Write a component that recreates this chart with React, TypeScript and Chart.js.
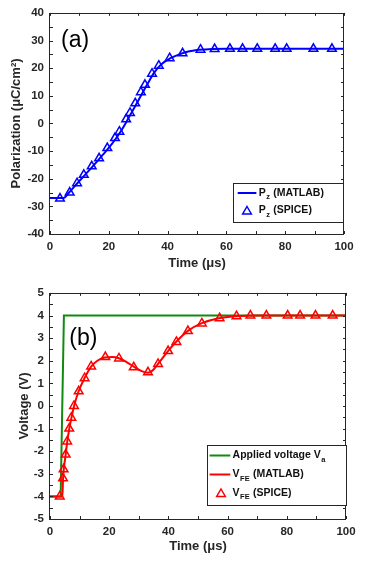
import React, { useEffect, useRef } from "react";
import { Chart, registerables } from "chart.js";

Chart.register(...registerables);

const FONT = '"Liberation Sans", Arial, Helvetica, sans-serif';
const INK = "#262626";
const BLUE = "#0000ff";
const RED = "#ff0000";
const GREEN = "#118a11";

// ---------- Panel (a): polarization ----------
const polMatlabTime = [0, 4.5, 6.5, 9, 12, 15, 18, 21, 24, 27, 30, 33, 35.5, 38, 41, 44, 47, 50, 55, 60, 100];
const polMatlabValue = [-27, -27, -25, -22, -18.5, -15, -11.3, -7.5, -3, 2.5, 8.2, 14, 18.5, 21.5, 23.6, 25, 26, 26.6, 26.9, 27, 27];
const polSpiceTime = [3.4, 6.7, 9.2, 11.5, 14.2, 16.7, 19.5, 22.1, 23.6, 25.9, 27.2, 29.0, 30.9, 32.3, 34.7, 37.0, 40.7, 45.1, 51.2, 56.0, 61.2, 65.5, 70.5, 76.6, 80.5, 89.6, 95.9];
const polSpiceValue = [-27.2, -25.0, -21.6, -18.6, -15.5, -12.6, -8.9, -5.3, -3.0, 1.5, 3.8, 7.3, 11.3, 14.0, 18.0, 20.9, 23.6, 25.4, 26.7, 26.9, 27.0, 27.0, 27.0, 27.0, 27.0, 27.0, 27.0];
const polXTickMarks = [0, 10, 20, 30, 40, 50, 60, 70, 80, 90, 100];
const polYTickMarks = [-40, -35, -30, -25, -20, -15, -10, -5, 0, 5, 10, 15, 20, 25, 30, 35, 40];

// ---------- Panel (b): voltage ----------
const appliedTime = [0, 3.6, 4.7, 100];
const appliedValue = [-4, -4, 4, 4];
const vfeMatlabTime = [0, 4.2, 4.4, 4.7, 5.3, 5.8, 6.5, 7.2, 8.1, 9.7, 11.7, 13.9, 16, 18.5, 21, 23.5, 26, 28.5, 31, 33, 34.5, 36.5, 40, 42.7, 46.6, 51.3, 57, 63, 70, 100];
const vfeMatlabValue = [-4, -4, -3.25, -2.75, -2.15, -1.6, -1.02, -0.55, -0.02, 0.66, 1.24, 1.74, 2.0, 2.14, 2.16, 2.1, 1.93, 1.72, 1.54, 1.47, 1.55, 1.86, 2.45, 2.85, 3.32, 3.66, 3.88, 3.97, 4, 4];
const vfeSpiceTime = [3.3, 4.4, 4.6, 5.3, 5.8, 6.5, 7.2, 8.1, 9.7, 11.7, 13.9, 18.7, 23.3, 28.3, 33.1, 36.5, 39.9, 42.7, 46.6, 51.3, 57.3, 63.0, 67.7, 73.1, 80.3, 84.5, 89.7, 95.5];
const vfeSpiceValue = [-4.0, -3.2, -2.8, -2.15, -1.57, -1.0, -0.52, 0.0, 0.65, 1.23, 1.75, 2.16, 2.1, 1.71, 1.49, 1.86, 2.43, 2.83, 3.31, 3.65, 3.88, 3.97, 4.0, 4.0, 4.0, 4.0, 4.0, 4.0];
const vXTickMarks = [0, 10, 20, 30, 40, 50, 60, 70, 80, 90, 100];
const vYTickMarks = [-5, -4.5, -4, -3.5, -3, -2.5, -2, -1.5, -1, -0.5, 0, 0.5, 1, 1.5, 2, 2.5, 3, 3.5, 4, 4.5, 5];

const toPoints = (xs: number[], ys: number[]) => xs.map((x, i) => ({ x, y: ys[i] }));

const framePlugin = {
  id: "frame",
  afterDatasetsDraw(chart: any, _args: any, opts: any) {
    const { ctx, chartArea } = chart;
    const { left, right, top, bottom } = chartArea;
    const xs = chart.scales.x;
    const ys = chart.scales.y;
    const L = 3;
    ctx.save();
    ctx.strokeStyle = INK;
    ctx.lineWidth = 1;
    ctx.beginPath();
    for (const v of opts.xTicks) {
      const px = Math.round(xs.getPixelForValue(v)) + 0.5;
      ctx.moveTo(px, bottom);
      ctx.lineTo(px, bottom - L);
      ctx.moveTo(px, top);
      ctx.lineTo(px, top + L);
    }
    for (const v of opts.yTicks) {
      const py = Math.round(ys.getPixelForValue(v)) + 0.5;
      ctx.moveTo(left, py);
      ctx.lineTo(left + L, py);
      ctx.moveTo(right, py);
      ctx.lineTo(right - L, py);
    }
    ctx.stroke();
    ctx.strokeRect(Math.round(left) - 0.5, Math.round(top) + 0.5, Math.round(right - left) + 0, Math.round(bottom - top) - 0);
    ctx.restore();
  },
};

function drawTriangle(ctx: CanvasRenderingContext2D, x: number, y: number, r: number, color: string) {
  ctx.save();
  ctx.strokeStyle = color;
  ctx.lineWidth = 1.5;
  ctx.beginPath();
  ctx.moveTo(x, y - r);
  ctx.lineTo(x + r * 0.866, y + r * 0.5);
  ctx.lineTo(x - r * 0.866, y + r * 0.5);
  ctx.closePath();
  ctx.stroke();
  ctx.restore();
}

const legendPlugin = {
  id: "boxLegend",
  afterDraw(chart: any, _args: any, opts: any) {
    const { ctx, chartArea } = chart;
    const x1 = Math.round(chartArea.right) - opts.rightInset;
    const x0 = x1 - opts.width;
    const y1 = Math.round(chartArea.bottom) - opts.bottomInset;
    const y0 = y1 - opts.height;
    ctx.save();
    ctx.fillStyle = "#ffffff";
    ctx.fillRect(x0, y0, opts.width, opts.height);
    ctx.strokeStyle = INK;
    ctx.lineWidth = 1;
    ctx.strokeRect(x0 + 0.5, y0 + 0.5, opts.width, opts.height);
    opts.rows.forEach((row: any, i: number) => {
      const cy = y0 + opts.rowY[i];
      if (row.kind === "line") {
        ctx.strokeStyle = row.color;
        ctx.lineWidth = 2;
        ctx.beginPath();
        ctx.moveTo(x0 + opts.lineX0, cy);
        ctx.lineTo(x0 + opts.lineX1, cy);
        ctx.stroke();
      } else {
        drawTriangle(ctx, x0 + opts.markerX, cy + 1, 5, row.color);
      }
      const mainFont = `bold 10.5px ${FONT}`;
      const subFont = `bold 7.5px ${FONT}`;
      ctx.fillStyle = "#111111";
      ctx.textBaseline = "middle";
      ctx.textAlign = "left";
      let tx = x0 + opts.textX;
      ctx.font = mainFont;
      ctx.fillText(row.main, tx, cy);
      tx += ctx.measureText(row.main).width;
      ctx.font = subFont;
      ctx.fillText(row.sub, tx + 0.5, cy + 4);
      tx += ctx.measureText(row.sub).width + 1;
      ctx.font = mainFont;
      ctx.fillText(row.rest, tx, cy);
    });
    ctx.restore();
  },
};

const panelLabelPlugin = {
  id: "panelLabel",
  afterDraw(chart: any, _args: any, opts: any) {
    const { ctx, chartArea } = chart;
    ctx.save();
    ctx.font = `23px ${FONT}`;
    ctx.fillStyle = "#000000";
    ctx.textAlign = "left";
    ctx.textBaseline = "alphabetic";
    ctx.fillText(opts.text, chartArea.left + opts.dx, chartArea.top + opts.dy);
    ctx.restore();
  },
};

const tickFont = { family: FONT, size: 11.5, weight: "bold" as const };
const titleFont = { family: FONT, size: 13, weight: "bold" as const };

function makeScales(p: any) {
  return {
    x: {
      type: "linear",
      min: 0,
      max: 100,
      grid: { display: false, drawTicks: false },
      border: { display: false },
      ticks: { stepSize: 20, font: tickFont, color: INK, padding: 5.5, maxRotation: 0, autoSkip: false },
      title: { display: true, text: "Time (μs)", font: titleFont, color: INK, padding: { top: 0, bottom: p.xTitlePad } },
      afterFit: (s: any) => {
        s.height = p.xHeight;
      },
    },
    y: {
      type: "linear",
      min: p.yMin,
      max: p.yMax,
      grid: { display: false, drawTicks: false },
      border: { display: false },
      ticks: { stepSize: p.yStep, font: tickFont, color: INK, padding: 6, autoSkip: false },
      title: { display: true, text: p.yTitle, font: titleFont, color: INK, padding: { top: p.yTitlePad, bottom: 0 } },
      afterFit: (s: any) => {
        s.width = 50;
      },
    },
  };
}

const configA: any = {
  type: "line",
  data: {
    datasets: [
      {
        label: "Pz (MATLAB)",
        data: toPoints(polMatlabTime, polMatlabValue),
        borderColor: BLUE,
        borderWidth: 2,
        pointRadius: 0,
        cubicInterpolationMode: "monotone",
        order: 2,
      },
      {
        label: "Pz (SPICE)",
        data: toPoints(polSpiceTime, polSpiceValue),
        showLine: false,
        pointStyle: "triangle",
        pointRadius: 5,
        pointBorderWidth: 1.5,
        borderColor: BLUE,
        pointBorderColor: BLUE,
        pointBackgroundColor: "rgba(0,0,0,0)",
        backgroundColor: "rgba(0,0,0,0)",
        order: 1,
      },
    ],
  },
  options: {
    responsive: false,
    animation: false,
    devicePixelRatio: 1,
    layout: { padding: { top: 6, right: 30, left: 0, bottom: 0 } },
    scales: makeScales({ xHeight: 46, xTitlePad: 9.2, yMin: -40, yMax: 40, yStep: 10, yTitle: "Polarization (μC/cm²)", yTitlePad: 9 }),
    plugins: {
      legend: { display: false },
      tooltip: { enabled: false },
      frame: { xTicks: polXTickMarks, yTicks: polYTickMarks },
      boxLegend: {
        width: 110,
        height: 39,
        rightInset: 1,
        bottomInset: 12,
        rowY: [10, 27.5],
        lineX0: 4.7,
        lineX1: 23.4,
        markerX: 14,
        textX: 25.7,
        rows: [
          { kind: "line", color: BLUE, main: "P", sub: "z", rest: " (MATLAB)" },
          { kind: "tri", color: BLUE, main: "P", sub: "z", rest: " (SPICE)" },
        ],
      },
      panelLabel: { text: "(a)", dx: 11, dy: 34 },
    },
  },
  plugins: [framePlugin, legendPlugin, panelLabelPlugin],
};

const configB: any = {
  type: "line",
  data: {
    datasets: [
      {
        label: "Applied voltage Va",
        data: toPoints(appliedTime, appliedValue),
        borderColor: GREEN,
        borderWidth: 2,
        pointRadius: 0,
        tension: 0,
        order: 3,
      },
      {
        label: "VFE (MATLAB)",
        data: toPoints(vfeMatlabTime, vfeMatlabValue),
        borderColor: RED,
        borderWidth: 2,
        pointRadius: 0,
        cubicInterpolationMode: "monotone",
        order: 2,
      },
      {
        label: "VFE (SPICE)",
        data: toPoints(vfeSpiceTime, vfeSpiceValue),
        showLine: false,
        pointStyle: "triangle",
        pointRadius: 5,
        pointBorderWidth: 1.5,
        borderColor: RED,
        pointBorderColor: RED,
        pointBackgroundColor: "rgba(0,0,0,0)",
        backgroundColor: "rgba(0,0,0,0)",
        order: 1,
      },
    ],
  },
  options: {
    responsive: false,
    animation: false,
    devicePixelRatio: 1,
    layout: { padding: { top: 11, right: 28, left: 0, bottom: 0 } },
    scales: makeScales({ xHeight: 42, xTitlePad: 6.5, yMin: -5, yMax: 5, yStep: 1, yTitle: "Voltage (V)", yTitlePad: 17 }),
    plugins: {
      legend: { display: false },
      tooltip: { enabled: false },
      frame: { xTicks: vXTickMarks, yTicks: vYTickMarks },
      boxLegend: {
        width: 139,
        height: 60,
        rightInset: 0,
        bottomInset: 14,
        rowY: [10.5, 29.5, 48],
        lineX0: 2.6,
        lineX1: 23.3,
        markerX: 14,
        textX: 25.6,
        rows: [
          { kind: "line", color: GREEN, main: "Applied voltage V", sub: "a", rest: "" },
          { kind: "line", color: RED, main: "V", sub: "FE", rest: " (MATLAB)" },
          { kind: "tri", color: RED, main: "V", sub: "FE", rest: " (SPICE)" },
        ],
      },
      panelLabel: { text: "(b)", dx: 19.3, dy: 52.5 },
    },
  },
  plugins: [framePlugin, legendPlugin, panelLabelPlugin],
};

function Panel({ config, width, height, top }: { config: any; width: number; height: number; top: number }) {
  const ref = useRef<HTMLCanvasElement>(null);
  useEffect(() => {
    const chart = new Chart(ref.current as HTMLCanvasElement, config);
    return () => chart.destroy();
  }, [config]);
  return (
    <canvas
      ref={ref}
      width={width}
      height={height}
      style={{ position: "absolute", left: 0, top, width, height, display: "block" }}
    />
  );
}

export default function App() {
  return (
    <div style={{ position: "absolute", left: 0, top: 0, width: 374, height: 561, background: "#ffffff" }}>
      <Panel config={configA} width={374} height={280} top={0} />
      <Panel config={configB} width={374} height={281} top={280} />
    </div>
  );
}
